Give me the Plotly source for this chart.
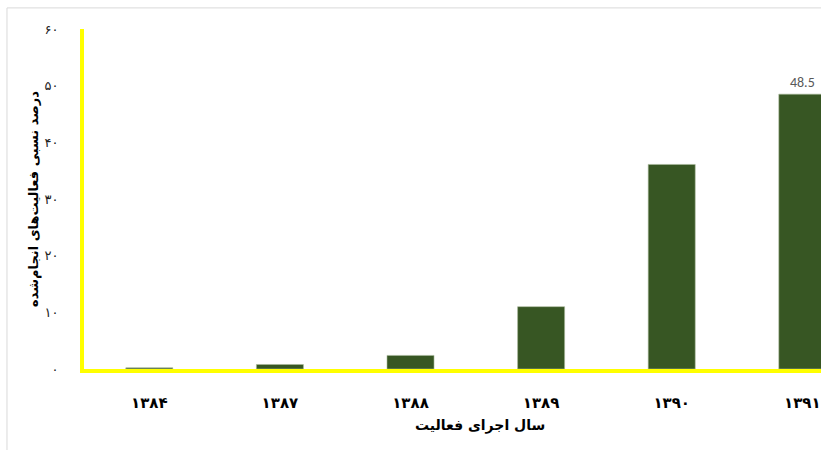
import plotly.graph_objects as go

years = ["۱۳۸۴", "۱۳۸۷", "۱۳۸۸", "۱۳۸۹", "۱۳۹۰", "۱۳۹۱"]
values = [0.2, 0.8, 2.4, 11.0, 36.1, 48.5]
labels = ["", "", "", "", "", "48.5"]
y_ticks = [0, 10, 20, 30, 40, 50, 60]
y_tick_text = ["۰", "۱۰", "۲۰", "۳۰", "۴۰", "۵۰", "۶۰"]

fig = go.Figure(go.Bar(
    x=years, y=values, text=labels, textposition="outside",
    textfont=dict(size=14, color="#595959", family="Calibri, Liberation Sans, sans-serif"),
    marker=dict(color="#375623", line=dict(color="#a9b99a", width=0.6)),
    width=0.36, cliponaxis=False,
))

fig.update_layout(
    width=821, height=450,
    margin=dict(l=84, r=0, t=29, b=81),
    plot_bgcolor="white", paper_bgcolor="white",
    showlegend=False,
    font=dict(family="DejaVu Sans, Noto Sans, sans-serif"),
    xaxis=dict(
        type="category", range=[-0.5, 5.143],
        showline=True, linecolor="#FFFF00", linewidth=4,
        showgrid=False, ticks="",
        tickfont=dict(size=15, color="#000", family="DejaVu Sans, sans-serif", weight="bold"),
        ticklabelstandoff=17,
    ),
    yaxis=dict(
        range=[0, 60], tickvals=y_ticks, ticktext=y_tick_text,
        showline=True, linecolor="#FFFF00", linewidth=4,
        showgrid=False, zeroline=False, ticks="",
        tickfont=dict(size=13, color="#222"),
        ticklabelstandoff=19,
        title=dict(text="درصد نسبی فعالیت‌های انجام‌شده",
                   font=dict(size=13, color="#000", weight="bold"), standoff=4),
    ),
    annotations=[dict(
        text="سال اجرای فعالیت", xref="paper", yref="paper",
        x=0.537, y=-0.165, showarrow=False, yanchor="middle",
        font=dict(size=14, color="#000", weight="bold"),
    )],
    shapes=[
        dict(type="line", xref="paper", yref="paper", x0=-0.1045, x1=-0.1045,
             y0=-0.24, y1=1.062, line=dict(color="#d9d9d9", width=1)),
        dict(type="line", xref="paper", yref="paper", x0=-0.1045, x1=1.01,
             y0=1.062, y1=1.062, line=dict(color="#d9d9d9", width=1)),
    ],
)

fig.write_html("out.html", config={"displayModeBar": False},
               post_script="document.body.style.margin='0';document.body.style.overflow='hidden';")
